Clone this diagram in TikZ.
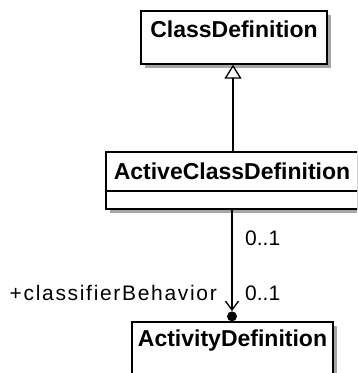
\documentclass[tikz,border=0pt]{standalone}
\usepackage{fontspec}
\setmainfont{Liberation Sans}
\usetikzlibrary{arrows.meta}
\tikzset{
  umlbox/.style={draw=black, line width=1.3pt, fill=white, inner sep=0pt},
  shadowbox/.style={fill=black!35, draw=none},
  title/.style={anchor=base, inner sep=0pt, font=\fontsize{23}{27}\selectfont\bfseries},
  lbl/.style={anchor=base west, inner sep=0pt, font=\fontsize{21}{25}\selectfont},
  conn/.style={draw=black, line width=1.3pt},
}
\begin{document}
\begin{tikzpicture}[x=1pt, y=-1pt]
\useasboundingbox (0,0) rectangle (357,373);
\clip (0,0) rectangle (357,373);
% shadows
\fill[shadowbox] (145,15) rectangle (331,68);
\fill[shadowbox] (110,156) rectangle (362,213);
\fill[shadowbox] (136,326) rectangle (337,384);
% boxes
\node[umlbox, minimum width=186pt, minimum height=53pt] (cd) at (234,37.5) {};
\node[umlbox, minimum width=252pt, minimum height=57pt] (acd) at (232,180.5) {};
\node[umlbox, minimum width=201pt, minimum height=58pt] (ad) at (232.5,351) {};
\draw[conn] (acd.west |- 0,191) -- (acd.east |- 0,191);
% titles
\node[title] (cdt) at ([yshift=-27pt]cd.north) {ClassDefinition};
\node[title] (acdt) at ([yshift=-28pt]acd.north) {ActiveClassDefinition};
\node[title] (adt) at ([yshift=-25pt]ad.north) {ActivityDefinition};
% generalization
\draw[conn, -{Triangle[open, length=14pt, width=17pt, line width=1.3pt]}] (acd.north -| 233,0) -- (cd.south -| 233,0);
% association
\node[circle, fill=black, inner sep=0pt, minimum size=10pt] (dot) at ([yshift=5pt]ad.north -| 232,0) {};
\draw[conn, -{Straight Barb[length=9pt, width=13pt, line width=1.3pt]}] (acd.south -| 232,0) -- (dot.north);
% labels
\node[lbl] (m1) at (245,245) {0..1};
\node[lbl] (m2) at (245,300) {0..1};
\node[lbl, anchor=base east, font=\fontsize{21}{25}\selectfont\addfontfeature{LetterSpace=8}] (role) at (217,300) {+classifierBehavior};
\end{tikzpicture}
\end{document}
